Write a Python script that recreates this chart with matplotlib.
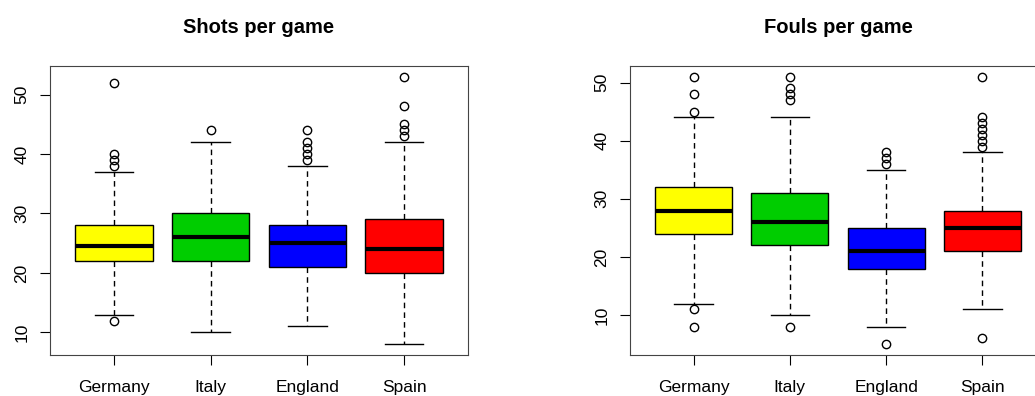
import matplotlib.pyplot as plt

plt.rcParams['font.family'] = ['Liberation Sans', 'DejaVu Sans']

teams = ["Germany", "Italy", "England", "Spain"]
colors = ["#FFFF00", "#00CD00", "#0000FF", "#FF0000"]

# Shots per game: q1, median, q3, whisker low, whisker high, outliers
shots_q1 = [22, 22, 21, 20]
shots_med = [24.5, 26, 25, 24]
shots_q3 = [28, 30, 28, 29]
shots_lo = [13, 10, 11, 8]
shots_hi = [37, 42, 38, 42]
shots_out = [[12, 38, 39, 40, 52], [44], [39, 40, 41, 42, 44], [43, 44, 45, 48, 53]]

# Fouls per game
fouls_q1 = [24, 22, 18, 21]
fouls_med = [28, 26, 21, 25]
fouls_q3 = [32, 31, 25, 28]
fouls_lo = [12, 10, 8, 11]
fouls_hi = [44, 44, 35, 38]
fouls_out = [[8, 11, 45, 48, 51], [8, 47, 48, 49, 51], [5, 36, 37, 38],
             [6, 39, 40, 41, 42, 43, 44, 51]]


def make_stats(q1, med, q3, lo, hi, out):
    return [dict(q1=a, med=b, q3=c, whislo=d, whishi=e, fliers=f, label=t)
            for a, b, c, d, e, f, t in zip(q1, med, q3, lo, hi, out, teams)]


def draw(ax, stats, title, ylim):
    bp = ax.bxp(stats, positions=[1, 2, 3, 4], widths=0.8, patch_artist=True,
                boxprops=dict(edgecolor="black", linewidth=1),
                medianprops=dict(color="black", linewidth=3),
                whiskerprops=dict(color="black", linestyle=(0, (4, 3)), linewidth=1),
                capprops=dict(color="black", linewidth=1), capwidths=0.4,
                flierprops=dict(marker="o", markerfacecolor="none",
                                markeredgecolor="black", markersize=6, markeredgewidth=1))
    for patch, c in zip(bp["boxes"], colors):
        patch.set_facecolor(c)
    ax.set_xlim(0.34, 4.66)
    ax.set_ylim(*ylim)
    ax.set_yticks([10, 20, 30, 40, 50])
    ax.set_xticks([1, 2, 3, 4])
    ax.set_xticklabels(teams)
    ax.tick_params(axis="y", labelrotation=90, length=7, labelsize=12.5, pad=8)
    ax.tick_params(axis="x", length=7, labelsize=12.5, pad=11)
    for lbl in ax.get_yticklabels():
        lbl.set_va("center")
    for s in ax.spines.values():
        s.set_color("#444444")
    ax.set_title(title, fontweight="bold", fontsize=14.5, pad=24)


fig = plt.figure(figsize=(10.35, 3.96), dpi=100)
ax1 = fig.add_axes([50 / 1035, 41 / 396, 418 / 1035, 289 / 396])
ax2 = fig.add_axes([630 / 1035, 41 / 396, 416 / 1035, 289 / 396])

draw(ax1, make_stats(shots_q1, shots_med, shots_q3, shots_lo, shots_hi, shots_out),
     "Shots per game", (6.2, 54.8))
draw(ax2, make_stats(fouls_q1, fouls_med, fouls_q3, fouls_lo, fouls_hi, fouls_out),
     "Fouls per game", (3.16, 52.84))

fig.savefig("out.png", dpi=100)
